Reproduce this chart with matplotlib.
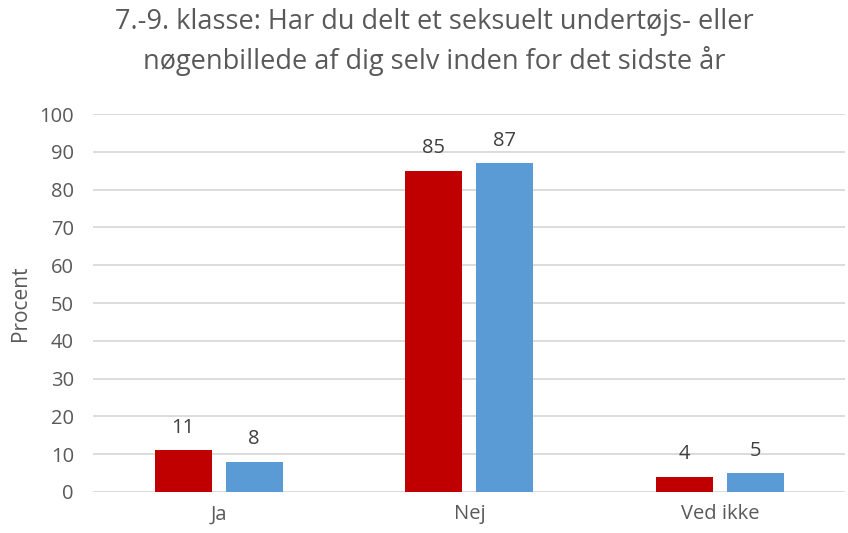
import numpy as np
import matplotlib.pyplot as plt

plt.rcParams['font.family'] = ['Open Sans', 'DejaVu Sans']

categories = ['Ja', 'Nej', 'Ved ikke']
series_a = [11, 85, 4]
series_b = [8, 87, 5]

red = '#C00000'
blue = '#5B9BD5'
txt = '#595959'

fig = plt.figure(figsize=(8.48, 5.33), dpi=100)
ax = fig.add_axes([0.110, 0.077, 0.887, 0.709])

x = np.arange(len(categories))
w = 0.227
off = 0.1415
bars_a = ax.bar(x - off, series_a, w, color=red, zorder=3)
bars_b = ax.bar(x + off, series_b, w, color=blue, zorder=3)

for bars, vals in [(bars_a, series_a), (bars_b, series_b)]:
    for b, v in zip(bars, vals):
        ax.annotate(str(v), (b.get_x() + b.get_width() / 2, v),
                    xytext=(0, 9), textcoords='offset points',
                    ha='center', va='bottom', fontsize=14.5, color='#404040')

ax.set_xlim(-0.5, 2.5)
ax.set_ylim(0, 100)
ax.set_yticks(range(0, 101, 10))
ax.set_xticks(x)
ax.set_xticklabels(categories)
ax.tick_params(axis='both', length=0, labelsize=14.5, colors=txt)
ax.tick_params(axis='y', pad=14)
ax.tick_params(axis='x', pad=9)
ax.yaxis.grid(True, color='#D9D9D9', linewidth=1.3, zorder=0)
for s in ax.spines.values():
    s.set_visible(False)
ax.set_ylabel('Procent', fontsize=15, color=txt, labelpad=6)

fig.text(0.512, 0.985, '7.-9. klasse: Har du delt et seksuelt undertøjs- eller\nnøgenbillede af dig selv inden for det sidste år',
         ha='center', va='top', fontsize=19.5, color=txt, linespacing=1.42)

fig.savefig('out.png', dpi=100)
